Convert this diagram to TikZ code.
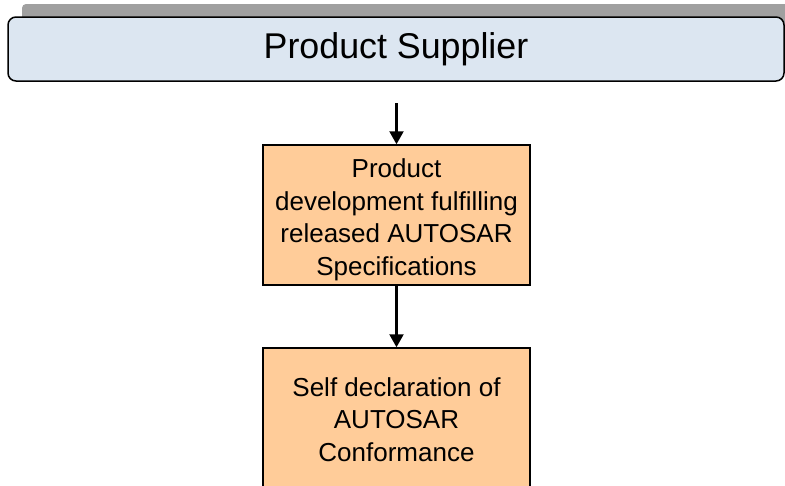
\documentclass[tikz,border=0pt]{standalone}
\usepackage{fontspec}
\setmainfont{Liberation Sans}
\usetikzlibrary{arrows.meta}
\definecolor{bannerfill}{HTML}{DCE6F1}
\definecolor{barfill}{HTML}{A0A0A0}
\definecolor{boxfill}{HTML}{FFCC99}
\begin{document}
\begin{tikzpicture}[x=1pt,y=-1pt,
  banner/.style={draw=black, line width=1.5pt, fill=bannerfill, rounded corners=8pt,
    minimum width=776pt, minimum height=64pt, inner sep=0pt,
    font=\fontsize{35.8}{40}\selectfont},
  procbox/.style={draw=black, line width=1.5pt, fill=boxfill, minimum width=267pt,
    minimum height=140pt, align=center, inner sep=0pt,
    font=\fontsize{26}{32.5}\selectfont},
  flowarrow/.style={draw=black, line width=2.2pt, -{Triangle[width=14pt,length=13pt]}}]
\useasboundingbox (0,0) rectangle (785,485);
\clip (0,0) rectangle (785,485);
\fill[barfill, rounded corners=4pt] (22,4) rectangle (800,40);
\node[banner] (supplier) at (396,49) {Product Supplier};
\node[procbox] (dev) at (396.5,215) {\rule{0pt}{28pt}Product\\development fulfilling\\released AUTOSAR\\Specifications};
\node[procbox] (decl) at (396.5,418) {\rule{0pt}{22pt}Self declaration of\\AUTOSAR\\Conformance};
\coordinate (src) at (396.5,103);
\draw[flowarrow] (src) -- (dev.north);
\draw[flowarrow] (dev.south) -- (decl.north);
\end{tikzpicture}
\end{document}
